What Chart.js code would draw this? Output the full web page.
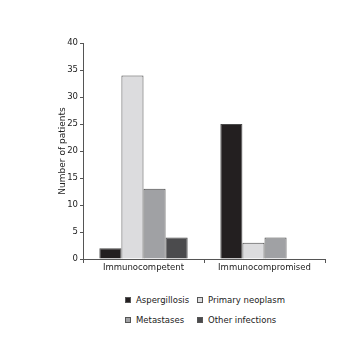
<!DOCTYPE html>
<html>
<head>
<meta charset="utf-8">
<script src="https://cdn.jsdelivr.net/npm/chart.js@4/dist/chart.umd.min.js"></script>
<style>
  html, body { margin: 0; padding: 0; background: #fff; }
  #wrap { position: relative; width: 351px; height: 341px; }
  #chart { position: absolute; left: 0; top: 0; }
  .legend { position: absolute; left: 0; top: 0; font-family: "DejaVu Sans", sans-serif; font-size: 8.5px; color: #222; }
  .legend .item { position: absolute; white-space: nowrap; line-height: 10px; }
  .legend .box { display: inline-block; width: 6px; height: 6px; box-sizing: border-box; border: 1px solid #555; margin-right: 5px; vertical-align: 0px; }
</style>
</head>
<body>
<div id="wrap">
  <canvas id="chart" width="351" height="285"></canvas>
  <div class="legend" id="legend"></div>
</div>
<script>
// Patient groups on the x axis
const groups = ['Immunocompetent', 'Immunocompromised'];

// Diagnosis counts per group
const aspergillosis   = [2, 25];
const primaryNeoplasm = [34, 3];
const metastases      = [13, 4];
const otherInfections = [4, 0];

const seriesNames  = ['Aspergillosis', 'Primary neoplasm', 'Metastases', 'Other infections'];
const seriesColors = ['#231f20', '#dcdcde', '#a0a1a4', '#4b4b4d'];
const yTicks = [0, 5, 10, 15, 20, 25, 30, 35, 40];

const seriesValues = [aspergillosis, primaryNeoplasm, metastases, otherInfections];

const axisColor = '#555';
const textColor = '#222';
const fontFamily = 'DejaVu Sans';

const chart = new Chart(document.getElementById('chart'), {
  type: 'bar',
  data: {
    labels: groups,
    datasets: seriesNames.map((name, i) => ({
      label: name,
      data: seriesValues[i],
      backgroundColor: seriesColors[i],
      borderColor: '#4a4a4a',
      borderWidth: 1,
      categoryPercentage: 0.73,
      barPercentage: 1.0
    }))
  },
  options: {
    responsive: false,
    animation: false,
    layout: { padding: { left: 50, right: 26, top: 43, bottom: 6 } },
    plugins: {
      legend: { display: false },
      tooltip: { enabled: false }
    },
    scales: {
      x: {
        offset: true,
        grid: { display: true, drawOnChartArea: false, drawTicks: true, tickLength: 4, color: axisColor, offset: true },
        border: { display: true, color: axisColor, width: 1 },
        ticks: { color: textColor, padding: 0, font: { family: fontFamily, size: 8.5 } },
        afterFit: s => { s.height = 20; }
      },
      y: {
        min: 0, max: 40,
        afterBuildTicks: s => { s.ticks = yTicks.map(v => ({ value: v })); },
        grid: { display: true, drawOnChartArea: false, drawTicks: true, tickLength: 3, color: axisColor },
        border: { display: true, color: axisColor, width: 1 },
        ticks: { color: textColor, padding: 2, font: { family: fontFamily, size: 8.5 } },
        title: { display: true, text: 'Number of patients', color: textColor, padding: { top: 7.5, bottom: 0 }, font: { family: fontFamily, size: 9 } },
        afterFit: s => { s.width = 33; }
      }
    }
  }
});

// Two-column legend built from the chart's datasets
const legend = document.getElementById('legend');
const colX = [125, 197];
const rowY = [295, 315];
chart.data.datasets.forEach((ds, i) => {
  const item = document.createElement('div');
  item.className = 'item';
  item.style.left = colX[i % 2] + 'px';
  item.style.top = rowY[Math.floor(i / 2)] + 'px';
  const box = document.createElement('span');
  box.className = 'box';
  box.style.background = ds.backgroundColor;
  item.appendChild(box);
  item.appendChild(document.createTextNode(ds.label));
  legend.appendChild(item);
});
</script>
</body>
</html>
